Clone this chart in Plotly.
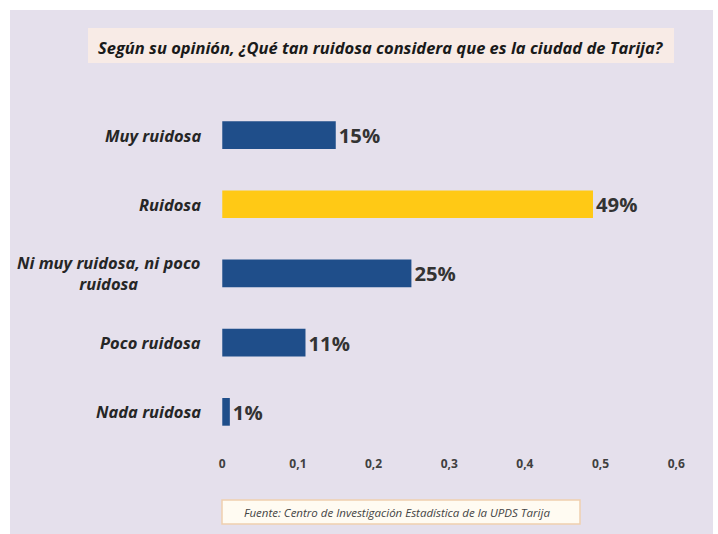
import plotly.graph_objects as go

# Survey answers (share of respondents)
categories = [
    "Muy ruidosa",
    "Ruidosa",
    "Ni muy ruidosa, ni poco<br>ruidosa",
    "Poco ruidosa",
    "Nada ruidosa",
]
shares = [0.15, 0.49, 0.25, 0.11, 0.01]
bar_colors = ["#1F4E8A", "#FFC915", "#1F4E8A", "#1F4E8A", "#1F4E8A"]
x_ticks = [0, 0.1, 0.2, 0.3, 0.4, 0.5, 0.6]

title_text = "Según su opinión, ¿Qué tan ruidosa considera que es la ciudad de Tarija?"
source_text = "Fuente: Centro de Investigación Estadística de la UPDS Tarija"

W, H = 718, 534
ML, MR, MT, MB = 220, 38, 97, 91
FONT = "Open Sans"

fig = go.Figure(
    go.Bar(
        x=shares,
        y=list(range(len(categories))),
        orientation="h",
        width=0.4,
        marker=dict(color=bar_colors, line=dict(width=0)),
        texttemplate="%{x:.0%}",
        textposition="outside",
        textfont=dict(family=FONT, size=20.5, color="#333333", weight="bold"),
        cliponaxis=False,
        hoverinfo="skip",
    )
)

# Category labels, centred line by line, to the left of the plot area
annotations = []
for i, cat in enumerate(categories):
    annotations.append(
        dict(
            x=0, xref="paper", xanchor="right", xshift=-17,
            y=i, yref="y", yanchor="middle",
            text=f"<b><i>{cat}</i></b>", align="center", showarrow=False,
            font=dict(family=FONT, size=16.5, color="#262626"),
        )
    )


def px_x(p):
    return (p - ML) / (W - ML - MR)


def px_y(p):
    return ((H - MB) - p) / (H - MT - MB)


# Question title
annotations.append(
    dict(
        x=px_x(381), xref="paper", xanchor="center",
        y=px_y(47), yref="paper", yanchor="middle",
        text=f"<b><i>{title_text}</i></b>", showarrow=False,
        font=dict(family=FONT, size=16.5, color="#1a1a1a"),
    )
)

# Source note
annotations.append(
    dict(
        x=px_x(397), xref="paper", xanchor="center",
        y=px_y(512), yref="paper", yanchor="middle",
        text=f"<i>{source_text}</i>", showarrow=False,
        font=dict(family=FONT, size=11.5, color="#444444"),
    )
)

shapes = [
    # lavender slide background
    dict(type="rect", xref="paper", yref="paper", layer="below",
         x0=px_x(10), x1=px_x(713), y0=px_y(10), y1=px_y(534),
         fillcolor="#E5E0EC", line=dict(width=0)),
    # title band
    dict(type="rect", xref="paper", yref="paper", layer="below",
         x0=px_x(88), x1=px_x(674), y0=px_y(28), y1=px_y(63),
         fillcolor="#F8EBE6", line=dict(width=0)),
    # source box
    dict(type="rect", xref="paper", yref="paper", layer="below",
         x0=px_x(222), x1=px_x(580), y0=px_y(500), y1=px_y(524),
         fillcolor="#FFFBF2", line=dict(color="#F0CFAE", width=1.5)),
]

fig.update_layout(
    width=W, height=H,
    margin=dict(l=ML, r=MR, t=MT, b=MB),
    paper_bgcolor="white",
    plot_bgcolor="white",
    separators=",.",
    showlegend=False,
    font=dict(family=FONT, color="#333333"),
    annotations=annotations,
    shapes=shapes,
    xaxis=dict(
        range=[-0.003, 0.605],
        tickmode="array", tickvals=x_ticks,
        showgrid=False, zeroline=False, showline=False,
        ticks="", ticklabelstandoff=12,
        tickfont=dict(family=FONT, size=12, color="#404040", weight="bold"),
        fixedrange=True,
    ),
    yaxis=dict(
        range=[4.45, -0.55],
        showticklabels=False, showgrid=False, zeroline=False, showline=False,
        ticks="", fixedrange=True,
    ),
)

fig.write_html("out.html")
